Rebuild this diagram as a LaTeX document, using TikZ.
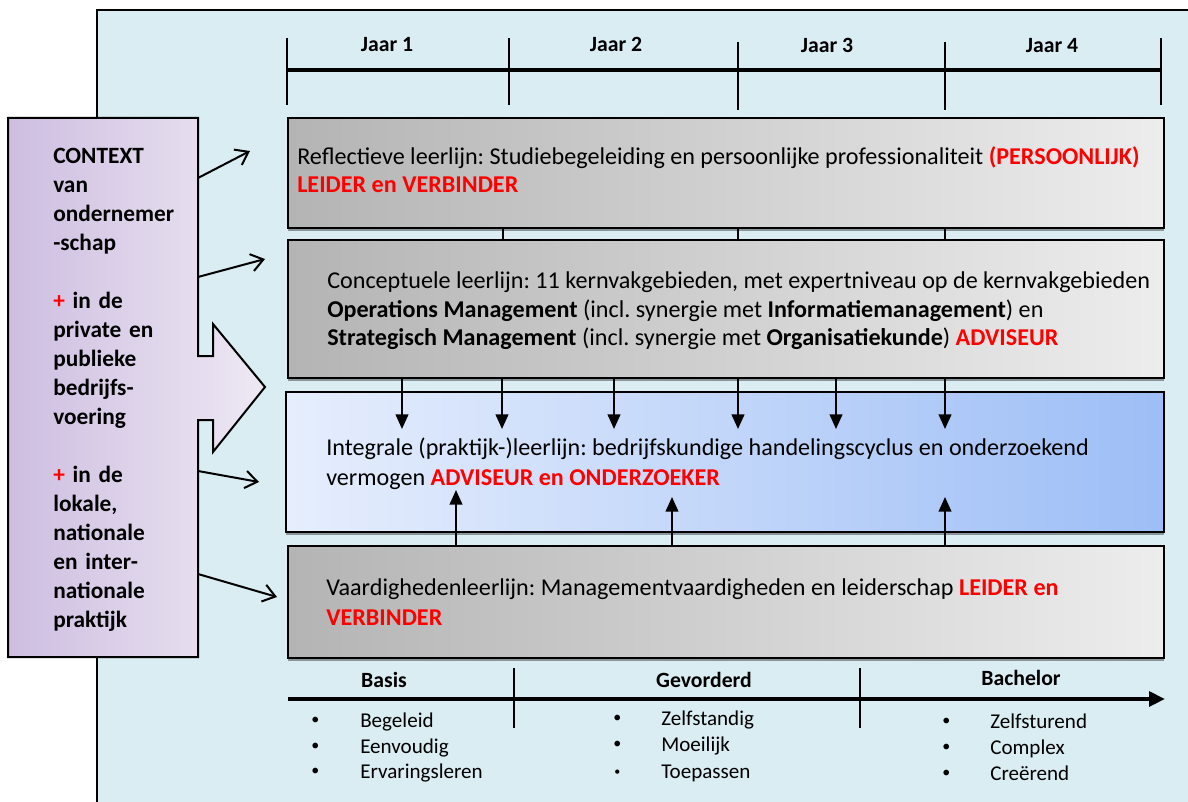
\documentclass[tikz,border=0pt]{standalone}
\usepackage{fontspec}
\setmainfont{Carlito}
\usetikzlibrary{arrows.meta,shadows}
\frenchspacing
\definecolor{bgblue}{HTML}{DAEDF3}
\definecolor{grayL}{HTML}{B4B4B4}
\definecolor{grayR}{HTML}{EDEDED}
\definecolor{blueL}{HTML}{E6EEFD}
\definecolor{blueR}{HTML}{9DBEF6}
\definecolor{ctxL}{HTML}{CDBEE0}
\definecolor{ctxR}{HTML}{EEE8F4}
\definecolor{shadowgray}{HTML}{8A9599}
\definecolor{redtxt}{HTML}{FF0000}
\tikzset{
  lanebox/.style={draw=black, line width=1.5pt, anchor=north west, inner sep=0pt,
    drop shadow={shadow xshift=0pt, shadow yshift=-2.6pt, fill=shadowgray, opacity=1}},
  graybox/.style={lanebox, left color=grayL, right color=grayR},
  bluebox/.style={lanebox, left color=blueL, right color=blueR},
  txt/.style={anchor=base west, inner sep=0pt, font=\fontsize{18.1}{21.75}\selectfont},
  lab/.style={anchor=base, inner sep=0pt, font=\bfseries\fontsize{16.3}{18}\selectfont},
  item/.style={anchor=base west, inner sep=0pt, font=\fontsize{15.8}{18}\selectfont},
  bul/.style={anchor=base west, inner sep=0pt, font=\fontsize{12}{14}\selectfont},
  tick/.style={line width=2.2pt},
  conn/.style={line width=1.5pt},
  downarrow/.style={line width=1.6pt, -{Triangle[length=11pt,width=9.5pt]}},
  ctxarrow/.style={line width=1.5pt, -{Straight Barb[length=9pt,width=13pt,line width=1.5pt]}}
}
\newcommand{\rd}[1]{\textcolor{redtxt}{\textbf{#1}}}
\begin{document}
\begin{tikzpicture}[x=0.75pt,y=-0.75pt]
\useasboundingbox (0,0) rectangle (1188,802);
\clip (0,0) rectangle (1188,802);
% background panel
\draw[fill=bgblue, line width=1.5pt] (97,10) rectangle (1240,850);

% top timeline
\coordinate (tl0) at (287,70);
\coordinate (tl4) at (1162,70);
\draw[line width=2.8pt] (tl0) -- (tl4);
\draw[tick] (287,38) -- (287,105);
\draw[tick] (509,38) -- (509,105);
\draw[tick] (738,42) -- (738,110);
\draw[tick] (945,42) -- (945,110);
\draw[tick] (1161,38) -- (1161,105);
\node[lab] (j1) at (387,52) {Jaar 1};
\node[lab] (j2) at (616,52) {Jaar 2};
\node[lab] (j3) at (827,53) {Jaar 3};
\node[lab] (j4) at (1052,53) {Jaar 4};

% lane boxes
\node[graybox, minimum width=657pt, minimum height=82.5pt] (b1) at (287,117) {};
\node[graybox, minimum width=657pt, minimum height=103.5pt] (b2) at (287,239) {};
\node[bluebox, minimum width=658.5pt, minimum height=105pt] (b3) at (285,391) {};
\node[graybox, minimum width=657pt, minimum height=84pt] (b4) at (287,545) {};

% connectors b1 - b2
\foreach \xx in {503,738,945} {
  \draw[conn] (b1.south -| \xx,0) -- (b2.north -| \xx,0);
}
% arrows b2 -> b3
\foreach \xx in {402,502,614,738,836,945} {
  \draw[downarrow] (b2.south -| \xx,0) -- (\xx,429);
}
% arrows b4 -> b3
\draw[downarrow] (b4.north -| 456,0) -- (456,490);
\draw[downarrow] (b4.north -| 672,0) -- (672,497);
\draw[downarrow] (b4.north -| 945,0) -- (945,497);

% texts
\node[txt] (t1a) at (297,165) {Reflectieve leerlijn: Studiebegeleiding en persoonlijke professionaliteit \rd{(PERSOONLIJK)}};
\node[txt] (t1b) at (297,193) {\rd{LEIDER en VERBINDER}};
\node[txt] (t2a) at (327,288) {Conceptuele leerlijn: 11 kernvakgebieden, met expertniveau op de kernvakgebieden};
\node[txt] (t2b) at (327,317) {\textbf{Operations Management} (incl. synergie met \textbf{Informatiemanagement}) en};
\node[txt] (t2c) at (327,345) {\textbf{Strategisch Management} (incl. synergie met \textbf{Organisatiekunde}) \rd{ADVISEUR}};
\node[txt] (t3a) at (326,455) {Integrale (praktijk-)leerlijn: bedrijfskundige handelingscyclus en onderzoekend};
\node[txt] (t3b) at (326,485) {vermogen \rd{ADVISEUR en ONDERZOEKER}};
\node[txt] (t4a) at (326,595) {Vaardighedenleerlijn: Managementvaardigheden en leiderschap \rd{LEIDER en}};
\node[txt] (t4b) at (326,625) {\rd{VERBINDER}};

% context shape
\shadedraw[left color=ctxL, right color=ctxR, line width=1.5pt]
  (8,118) -- (198,118) -- (198,356) -- (213,356) -- (213,324) -- (265,387)
  -- (213,452) -- (213,420) -- (198,420) -- (198,657) -- (8,657) -- cycle;
\node[anchor=base west, inner sep=0pt, text width=140pt, align=left,
      font=\bfseries\fontsize{17.5}{21.75}\selectfont] (ctx) at (53,164)
  {CONTEXT\\van\\ondernemer\\-schap\\\mbox{}\\\textcolor{redtxt}{+} in de\\private en\\publieke\\bedrijfs-\\voering\\\mbox{}\\\textcolor{redtxt}{+} in de\\lokale,\\nationale\\en inter-\\nationale\\praktijk};

% context arrows
\coordinate (cs1) at (198,178);
\coordinate (ce1) at (250,151);
\coordinate (cs2) at (198,277);
\coordinate (ce2) at (265,259);
\coordinate (cs3) at (198,471);
\coordinate (ce3) at (259,482);
\coordinate (cs4) at (198,574);
\coordinate (ce4) at (277,597);
\draw[ctxarrow] (cs1) -- (ce1);
\draw[ctxarrow] (cs2) -- (ce2);
\draw[ctxarrow] (cs3) -- (ce3);
\draw[ctxarrow] (cs4) -- (ce4);

% bottom timeline
\coordinate (bl0) at (288,699);
\coordinate (bl1) at (1165,699);
\draw[line width=2.8pt, -{Triangle[length=12pt,width=11pt]}] (bl0) -- (bl1);
\draw[line width=2pt] (514,668) -- (514,728);
\draw[line width=2pt] (860,668) -- (860,728);
\node[lab] (l1) at (384,687) {Basis};
\node[lab] (l2) at (704,687) {Gevorderd};
\node[lab] (l3) at (1021,685) {Bachelor};

\node[bul] (p1) at (311,724) {•};
\node[bul] (p2) at (311,750) {•};
\node[bul] (p3) at (311,775) {•};
\node[item] (i1) at (360,727) {Begeleid};
\node[item] (i2) at (360,753) {Eenvoudig};
\node[item] (i3) at (360,778) {Ervaringsleren};
\node[bul] (p4) at (613,722) {•};
\node[bul] (p5) at (613,748) {•};
\node[bul, font=\fontsize{9}{10}\selectfont] (p6) at (614,775) {•};
\node[item] (i4) at (661,725) {Zelfstandig};
\node[item] (i5) at (661,751) {Moeilijk};
\node[item] (i6) at (661,778) {Toepassen};
\node[bul] (p7) at (942,725) {•};
\node[bul] (p8) at (942,751) {•};
\node[bul] (p9) at (942,777) {•};
\node[item] (i7) at (990,728) {Zelfsturend};
\node[item] (i8) at (990,754) {Complex};
\node[item] (i9) at (990,780) {Creërend};
\end{tikzpicture}
\end{document}
